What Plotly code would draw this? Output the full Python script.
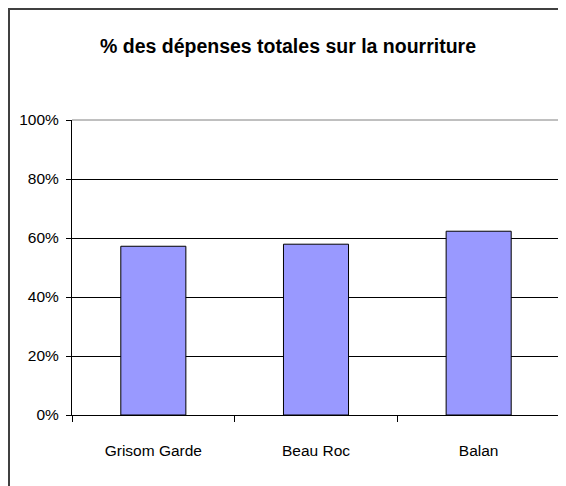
import plotly.graph_objects as go

categories = ["Grisom Garde", "Beau Roc", "Balan"]
values = [0.572, 0.579, 0.623]
title_text = "% des dépenses totales sur la nourriture"

FONT = "Liberation Sans, Arial, sans-serif"

# The page body has an 8px default margin: work in figure coordinates
OFF = 8
W, H = 566 - OFF, 486 - OFF
PL, PR, PT, PB = 72 - OFF, 560 - OFF, 120 - OFF, 415 - OFF  # plot area in figure px
L, R, T, B = PL, W - PR, PT, H - PB
pw, ph = PR - PL, PB - PT

def px(x):
    return (x - L) / pw

def py(y):
    return (H - B - y) / ph

fig = go.Figure(go.Bar(
    x=categories, y=values,
    marker=dict(color="#9999FF", line=dict(color="#000000", width=1)),
    width=0.4,
))

frame = dict(color="#404040", width=2)

fig.update_layout(
    width=W, height=H,
    margin=dict(l=L, r=R, t=T, b=B, pad=0),
    paper_bgcolor="white", plot_bgcolor="white",
    showlegend=False,
    font=dict(family=FONT, size=15.5, color="#000000"),
    title=dict(text="<b>" + title_text + "</b>", x=(288 - OFF) / W, xanchor="center",
               y=1 - (46 - OFF) / H, yanchor="middle",
               font=dict(family=FONT, size=19.5, color="#000000")),
    xaxis=dict(
        type="category", range=[-0.5, 2.5],
        tickson="boundaries", ticks="outside", ticklen=6, tickcolor="#000000",
        tickwidth=1, showline=True, linecolor="#000000", linewidth=1,
        showgrid=False, zeroline=False, ticklabelstandoff=21,
        tickfont=dict(family=FONT, size=15.5),
    ),
    yaxis=dict(
        range=[0, 1], dtick=0.2, tickformat=".0%",
        ticks="outside", ticklen=5, tickcolor="#000000", tickwidth=1,
        showline=True, linecolor="#000000", linewidth=1,
        showgrid=True, gridcolor="#000000", gridwidth=1, zeroline=False,
        ticklabelstandoff=4,
        tickfont=dict(family=FONT, size=15.5),
    ),
    shapes=[
        dict(type="line", xref="paper", yref="paper", x0=0, x1=1, y0=1, y1=1,
             line=dict(color="#808080", width=1), layer="above"),
        dict(type="line", xref="paper", yref="paper", x0=1, x1=1, y0=0, y1=1,
             line=dict(color="#808080", width=1), layer="above"),
        dict(type="line", xref="paper", yref="paper",
             x0=px(0), x1=px(W), y0=py(1), y1=py(1), line=frame, layer="above"),
        dict(type="line", xref="paper", yref="paper",
             x0=px(1), x1=px(1), y0=py(0), y1=py(H), line=frame, layer="above"),
    ],
)

fig.write_html("out.html", config={"displayModeBar": False})
